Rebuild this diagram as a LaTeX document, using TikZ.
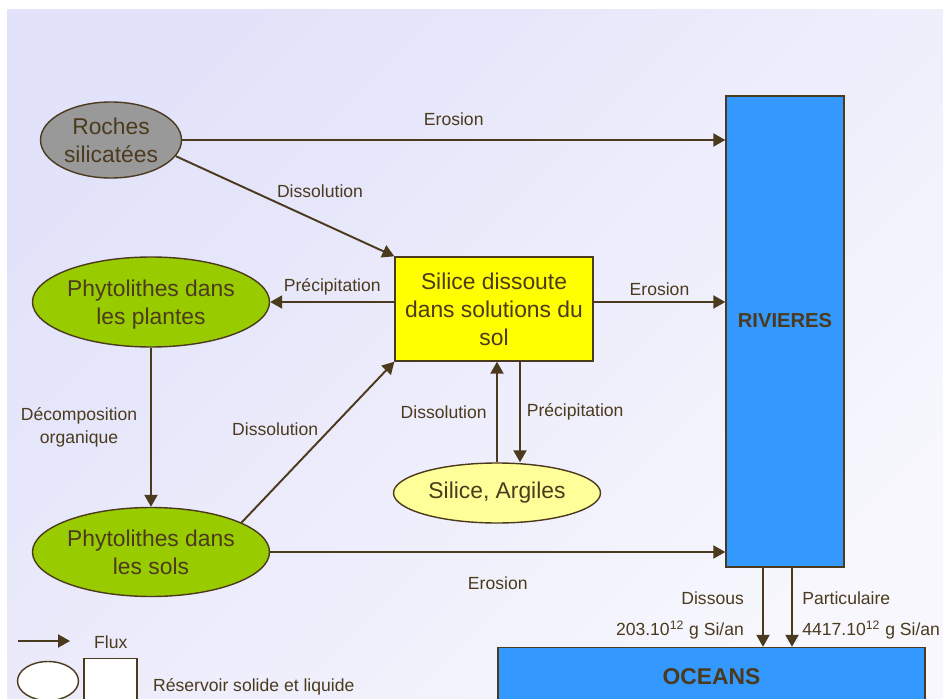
\documentclass[tikz,border=0pt]{standalone}
\usepackage{fontspec}
\setmainfont{Liberation Sans}
\usepackage{tikz}
\usetikzlibrary{shapes.geometric,arrows.meta}
\usepackage{xcolor}
\definecolor{cycleink}{RGB}{75,58,30}
\definecolor{rockgray}{RGB}{153,153,153}
\definecolor{plantgreen}{RGB}{153,204,0}
\definecolor{solyellow}{RGB}{255,255,0}
\definecolor{clayyellow}{RGB}{255,255,153}
\definecolor{waterblue}{RGB}{51,153,255}
\definecolor{bglavA}{RGB}{226,226,250}
\definecolor{bglavB}{RGB}{247,247,253}

\begin{document}
\begin{tikzpicture}[x=0.02cm, y=-0.02cm,
    reservoir/.style={ellipse, draw=cycleink, line width=0.8pt, inner sep=0pt,
        text=cycleink, font=\fontsize{13}{16}\selectfont, align=center},
    stock/.style={rectangle, draw=cycleink, line width=0.8pt, inner sep=0pt,
        text=cycleink, align=center},
    flux/.style={-{Triangle[length=6.8pt,width=7.4pt]}, line width=1.1pt, draw=cycleink},
    lbl/.style={font=\fontsize{10}{13}\selectfont, text=cycleink, align=center}
]
    \useasboundingbox (0,0) rectangle (943,699);
    \clip (0,0) rectangle (943,699);
    \fill[white] (0,0) rectangle (943,699);
    \shade[top color=bglavA, bottom color=bglavB, shading angle=45] (7,10) rectangle (943,699);

    % reservoirs
    \node[reservoir, fill=rockgray, minimum width=2.82cm, minimum height=1.52cm] (roches) at (111,140) {Roches\\silicatées};
    \node[reservoir, fill=plantgreen, minimum width=4.72cm, minimum height=1.8cm,
        text depth=0pt] (plantes) at (151,302) {Phytolithes dans\\les plantes};
    \node[reservoir, fill=plantgreen, minimum width=4.72cm, minimum height=1.78cm,
        text depth=0pt] (sols) at (151,552) {Phytolithes dans\\les sols};
    \node[stock, fill=solyellow, minimum width=3.96cm, minimum height=2.08cm,
        font=\fontsize{13}{16}\selectfont, text depth=0pt] (silice) at (494,309) {Silice dissoute\\dans solutions du\\sol};
    \node[reservoir, fill=clayyellow, minimum width=4.14cm, minimum height=1.2cm] (argiles) at (497,493) {Silice, Argiles};
    \node[stock, fill=waterblue, minimum width=2.36cm, minimum height=9.42cm,
        font=\fontsize{11.5}{14}\selectfont\bfseries] (riv) at (785,331.5) {\raisebox{13pt}{RIVIERES}};
    \node[stock, fill=waterblue, minimum width=8.54cm, minimum height=1.18cm,
        font=\fontsize{13}{15}\selectfont\bfseries] (oceans) at (711.5,677) {OCEANS};

    % flux
    \draw[flux] (roches.east) -- (roches.east -| riv.west) node[lbl, midway, above=4pt] {Erosion};
    \draw[flux] (roches.-14) -- (silice.north west) node[lbl, pos=0.66, above=10pt] {Dissolution};
    \draw[flux] (silice.west |- plantes.east) -- (plantes.east) node[lbl, midway, above] {Précipitation};
    \draw[flux] (silice.east |- plantes.east) -- (riv.west |- plantes.east) node[lbl, midway, above] {Erosion};
    \draw[flux] (plantes) -- (sols) node[lbl, midway, left=4pt] {Décomposition\\organique};
    \draw[flux] (sols.18) -- (silice.south west) node[lbl, midway, above left, xshift=4pt] {Dissolution};
    \draw[flux] (argiles.north) -- (argiles.north |- silice.south) node[lbl, midway, left=2pt] {Dissolution};
    \draw[flux] ([xshift=0.46cm]argiles.north |- silice.south) -- ([xshift=0.46cm]argiles.north) node[lbl, midway, right] {Précipitation};
    \draw[flux] (sols.east) -- (sols.east -| riv.west) node[lbl, midway, below=10pt] {Erosion};
    \draw[flux] ([xshift=-0.44cm]riv.south) -- ([xshift=-0.44cm]riv.south |- oceans.north)
        node[lbl, pos=0.38, left=7pt] {Dissous}
        node[lbl, pos=0.79, left=7pt] {203.10\textsuperscript{12} g Si/an};
    \draw[flux] ([xshift=0.14cm]riv.south) -- ([xshift=0.14cm]riv.south |- oceans.north)
        node[lbl, pos=0.38, right=2pt] {Particulaire}
        node[lbl, pos=0.79, right=2pt] {4417.10\textsuperscript{12} g Si/an};

    % legende
    \coordinate (fluxa) at (18,641);
    \coordinate (fluxb) at (70,641);
    \draw[flux] (fluxa) -- (fluxb);
    \node[lbl, anchor=west] (fluxkey) at (88,642) {Flux};
    \node[reservoir, fill=white, minimum width=1.22cm, minimum height=0.78cm] (keyell) at (48,681) {};
    \node[stock, fill=white, minimum width=1.06cm, minimum height=0.9cm] (keybox) at (110.5,681) {};
    \node[lbl, anchor=west] (keyres) at (147,687) {Réservoir solide et liquide};
\end{tikzpicture}
\end{document}
